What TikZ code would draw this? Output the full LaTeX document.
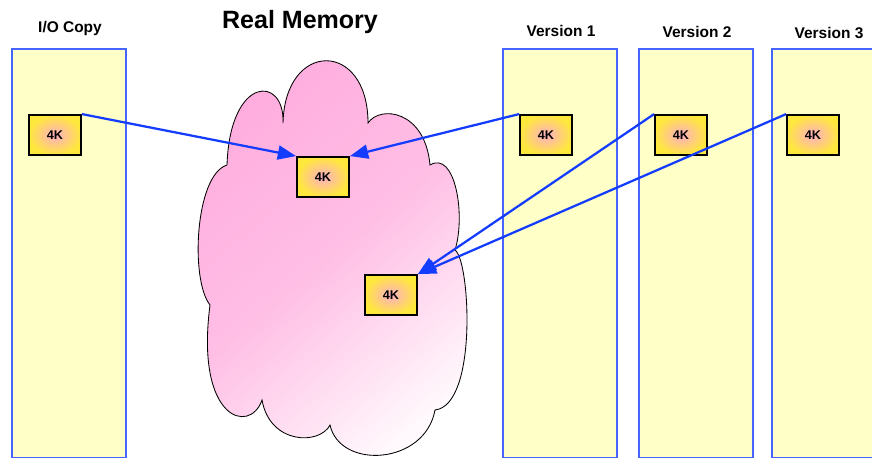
\documentclass[tikz,border=0pt]{standalone}
\usepackage{fontspec}
\setmainfont{Liberation Sans}
\usepackage{tikz}
\usetikzlibrary{arrows.meta,positioning}
\definecolor{colYellow}{RGB}{255,255,200}
\definecolor{colBorder}{RGB}{70,100,255}
\definecolor{linkBlue}{RGB}{20,60,255}
\definecolor{boxYellow}{RGB}{255,232,60}
\definecolor{boxPink}{RGB}{255,175,195}
\definecolor{cloudPink}{RGB}{255,172,222}
\definecolor{cloudPale}{RGB}{255,248,252}

\begin{document}
\begin{tikzpicture}[x=0.025cm,y=-0.025cm,
  memcol/.style={draw=colBorder,line width=0.8pt,fill=colYellow,minimum width=2.85cm,minimum height=10.2cm,inner sep=0pt},
  pagebox/.style={draw=black,line width=1.3pt,inner color=boxPink,outer color=boxYellow,minimum width=1.3cm,minimum height=1cm,inner sep=0pt,font=\bfseries\fontsize{9}{10}\selectfont},
  colhead/.style={font=\bfseries\fontsize{11}{13}\selectfont},
  link/.style={draw=linkBlue,line width=1.6pt,-{Triangle[length=13pt,width=10pt]}}]
\useasboundingbox (0,0) rectangle (872,462);
\foreach \name/\x in {io/69,v1/560,v2/696,v3/829}
  \node[memcol] (\name col) at (\x,253) {};
\node[colhead] (iohead) at (70,28) {I/O Copy};
\node[colhead] (v1head) at (561,31) {Version 1};
\node[colhead] (v2head) at (697,32) {Version 2};
\node[colhead] (v3head) at (829,33) {Version 3};
\node[font=\bfseries\fontsize{17.8}{20}\selectfont] (rmhead) at (300,22) {Real Memory};
% the cloud of real memory
\draw[line width=0.6pt,top color=cloudPink,bottom color=cloudPale,middle color=cloudPink!75!cloudPale,shading angle=40]
  (227,165) .. controls (230,75) and (285,75) .. (283,123)
  .. controls (285,40) and (368,40) .. (368,123)
  .. controls (380,105) and (425,110) .. (430,165)
  .. controls (455,150) and (466,215) .. (455,250)
  .. controls (470,260) and (478,405) .. (435,410)
  .. controls (425,465) and (340,470) .. (330,425)
  .. controls (320,445) and (270,445) .. (262,400)
  .. controls (250,435) and (195,420) .. (210,305)
  .. controls (190,280) and (195,175) .. cycle;
\node[pagebox] (io4k) at (55,135) {4K};
\node[pagebox] (v14k) at (546,135) {4K};
\node[pagebox] (v24k) at (681,135) {4K};
\node[pagebox] (v34k) at (813,135) {4K};
\node[pagebox] (rm1) at (323,177) {4K};
\node[pagebox] (rm2) at (391,295) {4K};
\draw[link] (io4k.north east) -- (rm1.north west);
\draw[link] (v14k.north west) -- (rm1.north east);
\draw[link] (v24k.north west) -- (rm2.north east);
\draw[link] (v34k.north west) -- (rm2.north east);
\end{tikzpicture}
\end{document}
